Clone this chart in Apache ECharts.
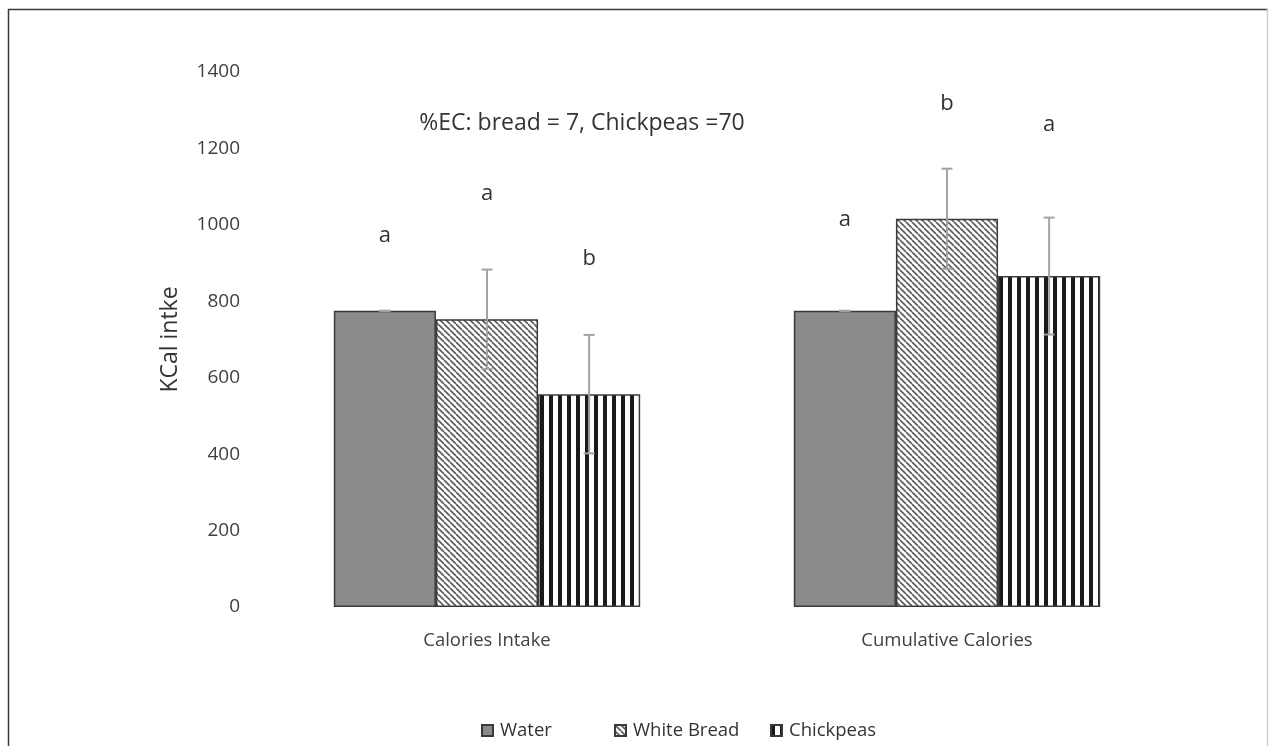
<!DOCTYPE html>
<html>
<head>
<meta charset="utf-8">
<title>KCal intake</title>
<script src="https://cdn.jsdelivr.net/npm/echarts@6/dist/echarts.min.js"></script>
<style>
  html, body { margin: 0; padding: 0; background: #fff; }
  #chart { width: 1269px; height: 746px; }
</style>
</head>
<body>
<div id="chart"></div>
<script>
// Category groups and treatment series
const categories = ['Calories Intake', 'Cumulative Calories'];
const seriesNames = ['Water', 'White Bread', 'Chickpeas'];

// Mean kcal per treatment (one value per category)
const waterVals = [775, 775];
const breadVals = [753, 1016];
const chickpeaVals = [557, 866];

// Standard errors
const waterErr = [0, 0];
const breadErr = [130, 131];
const chickpeaErr = [155, 153];

// Significance letters and the kcal level where each is written
const waterLetters = ['a', 'a'];
const breadLetters = ['a', 'b'];
const chickpeaLetters = ['b', 'a'];
const waterLetterY = [971, 1013];
const breadLetterY = [1081, 1317];
const chickpeaLetterY = [911, 1262];

// Y axis ticks
const yMin = 0, yMax = 1400, yStep = 200;

const note = '%EC: bread = 7, Chickpeas =70';

const FONT = '"Open Sans", sans-serif';
const BAR_RATIO = 0.222;

// Fill patterns
function diagonalPattern() {
  const p = 6;
  const c = document.createElement('canvas');
  c.width = p; c.height = p;
  const g = c.getContext('2d');
  g.fillStyle = '#ffffff';
  g.fillRect(0, 0, p, p);
  g.strokeStyle = '#5a5a5a';
  g.lineWidth = 1.6;
  for (let k = -1; k <= 1; k++) {
    g.beginPath();
    g.moveTo(k * p, 0);
    g.lineTo(k * p + p, p);
    g.stroke();
  }
  return c;
}
function stripePattern() {
  const p = 9;
  const c = document.createElement('canvas');
  c.width = p; c.height = p;
  const g = c.getContext('2d');
  g.fillStyle = '#ffffff';
  g.fillRect(0, 0, p, p);
  g.fillStyle = '#1a1a1a';
  g.fillRect(0, 0, 4, p);
  return c;
}

const fills = [
  '#8b8b8d',
  { image: diagonalPattern(), repeat: 'repeat' },
  { image: stripePattern(), repeat: 'repeat' }
];

const values = [waterVals, breadVals, chickpeaVals];
const errs = [waterErr, breadErr, chickpeaErr];
const letters = [waterLetters, breadLetters, chickpeaLetters];
const letterYs = [waterLetterY, breadLetterY, chickpeaLetterY];

const barSeries = seriesNames.map((name, s) => ({
  name: name,
  type: 'bar',
  barWidth: (BAR_RATIO * 100) + '%',
  barGap: '0%',
  data: values[s],
  itemStyle: { color: fills[s], borderColor: '#3a3a3a', borderWidth: 1.5 },
  z: 2
}));

// Error-bar rows: [categoryIndex, seriesIndex, mean, se]
const errRows = [];
const letterRows = [];
values.forEach((arr, s) => arr.forEach((v, c) => {
  errRows.push([c, s, v, errs[s][c]]);
  letterRows.push([c, s, letterYs[s][c], letters[s][c]]);
}));

const errorSeries = {
  type: 'custom',
  name: 'err',
  data: errRows,
  encode: { x: 0, y: 2 },
  z: 5,
  silent: true,
  renderItem: function (params, api) {
    const c = api.value(0), s = api.value(1), v = api.value(2), e = api.value(3);
    const band = api.size([1, 0])[0];
    const dx = (s - 1) * band * BAR_RATIO;
    const hi = api.coord([c, v + e]);
    const lo = api.coord([c, v - e]);
    const x = hi[0] + dx;
    const cap = 5.5;
    const style = { stroke: '#a3a3a3', lineWidth: 2 };
    return {
      type: 'group',
      children: [
        { type: 'line', shape: { x1: x, y1: hi[1], x2: x, y2: lo[1] }, style: style },
        { type: 'line', shape: { x1: x - cap, y1: hi[1], x2: x + cap, y2: hi[1] }, style: style },
        { type: 'line', shape: { x1: x - cap, y1: lo[1], x2: x + cap, y2: lo[1] }, style: style }
      ]
    };
  }
};

const letterSeries = {
  type: 'custom',
  name: 'letters',
  data: letterRows,
  encode: { x: 0, y: 2 },
  z: 6,
  silent: true,
  renderItem: function (params, api) {
    const row = letterRows[params.dataIndex];
    const band = api.size([1, 0])[0];
    const dx = (row[1] - 1) * band * BAR_RATIO;
    const p = api.coord([row[0], row[2]]);
    return {
      type: 'text',
      x: p[0] + dx,
      y: p[1],
      style: {
        text: row[3],
        fill: '#333333',
        font: '22px ' + FONT,
        textAlign: 'center',
        textVerticalAlign: 'middle'
      }
    };
  }
};

// One legend entry per component so each can sit at its own spot
const legendLefts = [481, 614, 770];
const legends = seriesNames.map((name, i) => ({
  data: [name],
  top: 721,
  left: legendLefts[i],
  icon: 'rect',
  itemWidth: 11,
  itemHeight: 11,
  padding: 0,
  selectedMode: false,
  textStyle: { fontFamily: FONT, fontSize: 18.5, color: '#333333', padding: [0, 0, 0, 2] }
}));

const chart = echarts.init(document.getElementById('chart'), null, { renderer: 'canvas' });
chart.setOption({
  backgroundColor: '#ffffff',
  animation: false,
  grid: { left: 257, right: 92, top: 72, bottom: 139, containLabel: false },
  legend: legends,
  xAxis: {
    type: 'category',
    data: categories,
    axisLine: { show: false },
    axisTick: { show: false },
    axisLabel: { margin: 24, fontFamily: FONT, fontSize: 18.5, color: '#404040' }
  },
  yAxis: {
    type: 'value',
    min: yMin,
    max: yMax,
    interval: yStep,
    name: 'KCal intke',
    nameLocation: 'middle',
    nameGap: 75,
    nameRotate: 90,
    nameTextStyle: { fontFamily: FONT, fontSize: 23, color: '#333333' },
    axisLine: { show: false },
    axisTick: { show: false },
    splitLine: { show: false },
    axisLabel: {
      margin: 17, fontFamily: FONT, fontSize: 19, color: '#404040',
      formatter: v => String(v)
    }
  },
  graphic: [
    { type: 'line', shape: { x1: 8.5, y1: 9, x2: 8.5, y2: 746 }, style: { stroke: '#3a3a3a', lineWidth: 1.5 } },
    { type: 'line', shape: { x1: 8, y1: 9.5, x2: 1268, y2: 9.5 }, style: { stroke: '#3a3a3a', lineWidth: 1.5 } },
    { type: 'line', shape: { x1: 1267.5, y1: 9, x2: 1267.5, y2: 746 }, style: { stroke: '#cfcfcf', lineWidth: 1.5 } },
    {
      type: 'text', x: 582, y: 123,
      style: { text: note, font: '23px ' + FONT, fill: '#333333', textAlign: 'center', textVerticalAlign: 'middle' }
    }
  ],
  series: barSeries.concat([errorSeries, letterSeries])
});
</script>
</body>
</html>
